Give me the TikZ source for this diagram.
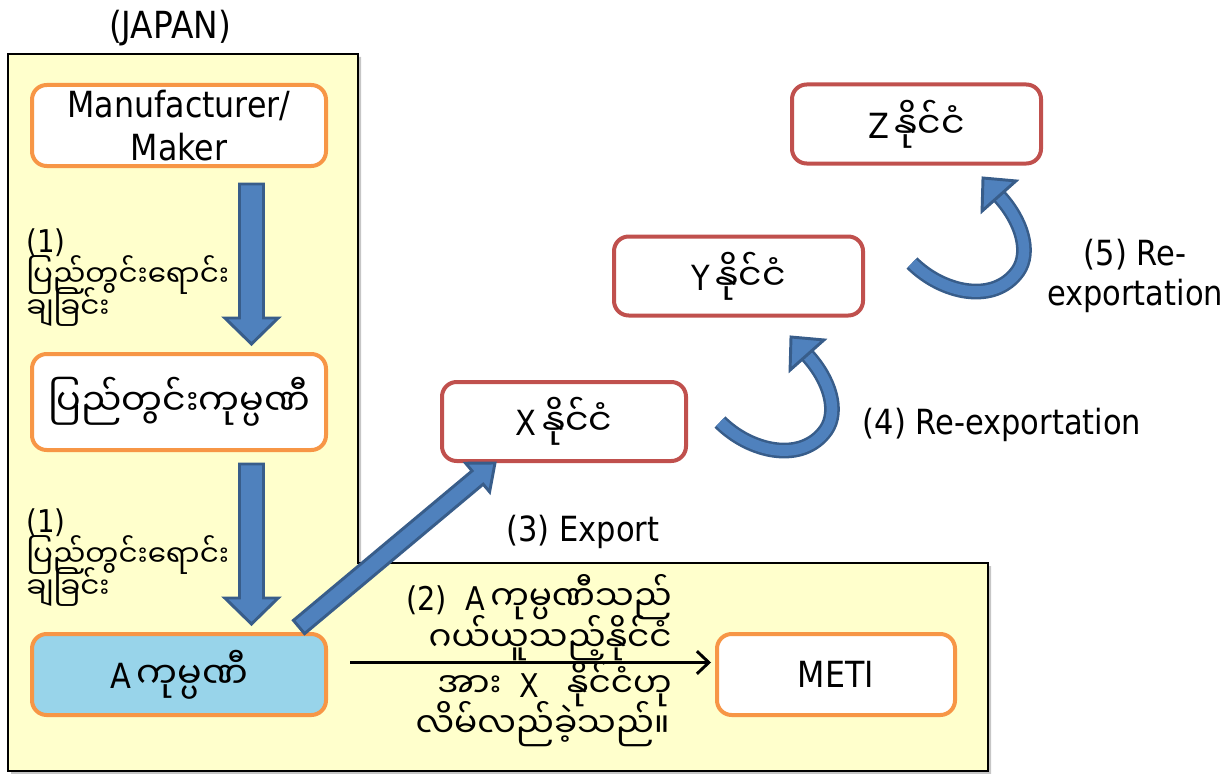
\documentclass[tikz,border=0pt]{standalone}
\usepackage{fontspec}
\setmainfont{DejaVu Sans}[FakeStretch=0.88]
\newfontfamily\mya[Script=Myanmar,Scale=1.05]{Noto Sans Myanmar UI}
\usetikzlibrary{arrows.meta,calc}
\definecolor{jp}{HTML}{FFFFCC}
\definecolor{org}{HTML}{F79646}
\definecolor{rd}{HTML}{C0504D}
\definecolor{bl}{HTML}{4F81BD}
\definecolor{bld}{HTML}{385D8A}
\definecolor{lb}{HTML}{98D4EA}
\newcommand\blockarr[5]{%
  \coordinate (#1-base) at ($(#2)!#5!(#1)$);
  \draw[blockarrow] ($(#1)!#3!90:(#2)$) -- ($(#1-base)!#3!90:(#2)$) -- ($(#1-base)!#4!90:(#2)$) -- (#2) -- ($(#1-base)!#4!-90:(#2)$) -- ($(#1-base)!#3!-90:(#2)$) -- ($(#1)!#3!-90:(#2)$) -- cycle;}
\begin{document}
\begin{tikzpicture}[x=0.75pt,y=-0.75pt,
  big/.style={font=\fontsize{26}{32}\selectfont},
  side/.style={font=\fontsize{21}{21}\selectfont, inner sep=0pt, anchor=base west},
  sidenum/.style={font=\fontsize{23.5}{24}\selectfont, inner sep=0pt, anchor=base west},
  note/.style={font=\fontsize{24.5}{26.5}\selectfont, inner sep=0pt, anchor=base east},
  obox/.style={draw=org, line width=3pt, rounded corners=11pt, fill=white, align=center, inner sep=0pt, big},
  rbox/.style={draw=rd, line width=3pt, rounded corners=11pt, fill=white, align=center, inner sep=0pt, big},
  blockarrow/.style={fill=bl, draw=bld, line width=2.2pt, line join=miter},
  curvearrow/.style={draw=bld, line width=1.9pt, double=bl, double distance=8pt}]
\useasboundingbox (0,0) rectangle (1228,774);
% Japan region
\fill[gray!45] (11,57) -- (361,57) -- (361,566) -- (991,566) -- (991,776) -- (11,776) -- cycle;
\draw[fill=jp, line width=1.2pt] (8,54) -- (358,54) -- (358,563) -- (988,563) -- (988,771) -- (8,771) -- cycle;
\node[font=\fontsize{28}{32}\selectfont] (japan) at (170,28) {(JAPAN)};
% boxes
\node[obox, font=\fontsize{27}{32}\selectfont, minimum width=220.5pt, minimum height=60.75pt] (mfr) at (179,125.5) {Manufacturer/\\Maker};
\node[obox, minimum width=220.5pt, minimum height=72pt] (dom) at (179,402) {\mya ပြည်တွင်းကုမ္ပဏီ};
\node[obox, fill=lb, minimum width=220.5pt, minimum height=60.75pt] (A) at (179,674.5) {A\,{\mya ကုမ္ပဏီ}};
\node[obox, font=\fontsize{27}{32}\selectfont, minimum width=178.5pt, minimum height=60.75pt] (meti) at (836,674.5) {METI};
\node[rbox, minimum width=183pt, minimum height=59.25pt] (X) at (564,421.5) {X\,{\mya နိုင်ငံ}};
\node[rbox, minimum width=186.75pt, minimum height=59.25pt] (Y) at (738.5,276) {Y\,{\mya နိုင်ငံ}};
\node[rbox, minimum width=186.75pt, minimum height=59.25pt] (Z) at (916.5,124) {Z\,{\mya နိုင်ငံ}};
% side labels
\node[sidenum] (l1a) at (26,252) {(1)};
\node[side] (l1b) at (26,286) {\mya ပြည်တွင်းရောင်း};
\node[side] (l1c) at (26,318) {\mya ချခြင်း};
\node[sidenum] (l2a) at (26,532) {(1)};
\node[side] (l2b) at (26,566) {\mya ပြည်တွင်းရောင်း};
\node[side] (l2c) at (26,598) {\mya ချခြင်း};
% block arrows
\coordinate (a1t) at (251.5,184);
\coordinate (a1h) at (251.5,344);
\coordinate (a2t) at (251.5,464);
\coordinate (a2h) at (251.5,624);
\coordinate (a3t) at (299,627);
\coordinate (a3h) at (495,463);
\blockarr{a1t}{a1h}{9pt}{20pt}{19.5pt}
\blockarr{a2t}{a2h}{9pt}{20pt}{19.5pt}
\blockarr{a3t}{a3h}{6.5pt}{14pt}{17pt}
% black arrow
\draw[line width=2.2pt, -{Straight Barb[length=9pt,width=17pt]}] ($(A.east)+(22,-12)$) -- ($(meti.west)+(-4,-12)$);
\node[big] (exp) at (583,532) {(3) Export};
\node[note] (n1) at (672,610) {(2)~~A\,{\mya ကုမ္ပဏီသည်}};
\node[note] (n2) at (672,651) {\mya ဂယ်ယူသည့်နိုင်ငံ};
\node[note] (n3) at (672,697) {{\mya အား}~~X~~~{\mya နိုင်ငံဟု}};
\node[note] (n4) at (670,737) {\mya လိမ်လည်ခဲ့သည်။};
% curved arrows
\coordinate (c4s) at (720,422);
\coordinate (c4e) at (807,355);
\coordinate (c4t) at (791,337);
\draw[curvearrow] (c4s) .. controls (750,452) and (802,464) .. (826,430) .. controls (839,411) and (830,380) .. (c4e);
\draw[blockarrow] (c4t) -- ($(c4e)!17pt!90:(c4t)$) -- ($(c4e)!17pt!-90:(c4t)$) -- cycle;
\begin{scope}[shift={(192,-159)}]
\coordinate (c5s) at (720,422);
\coordinate (c5e) at (807,355);
\coordinate (c5t) at (791,337);
\draw[curvearrow] (c5s) .. controls (750,452) and (802,464) .. (826,430) .. controls (839,411) and (830,380) .. (c5e);
\draw[blockarrow] (c5t) -- ($(c5e)!17pt!90:(c5t)$) -- ($(c5e)!17pt!-90:(c5t)$) -- cycle;
\end{scope}
\node[big, anchor=west] (re4) at (858,425) {(4) Re-exportation};
\node[big, align=center] (re5) at (1135,276) {(5) Re-\\[-2pt]exportation};
\end{tikzpicture}
\end{document}
